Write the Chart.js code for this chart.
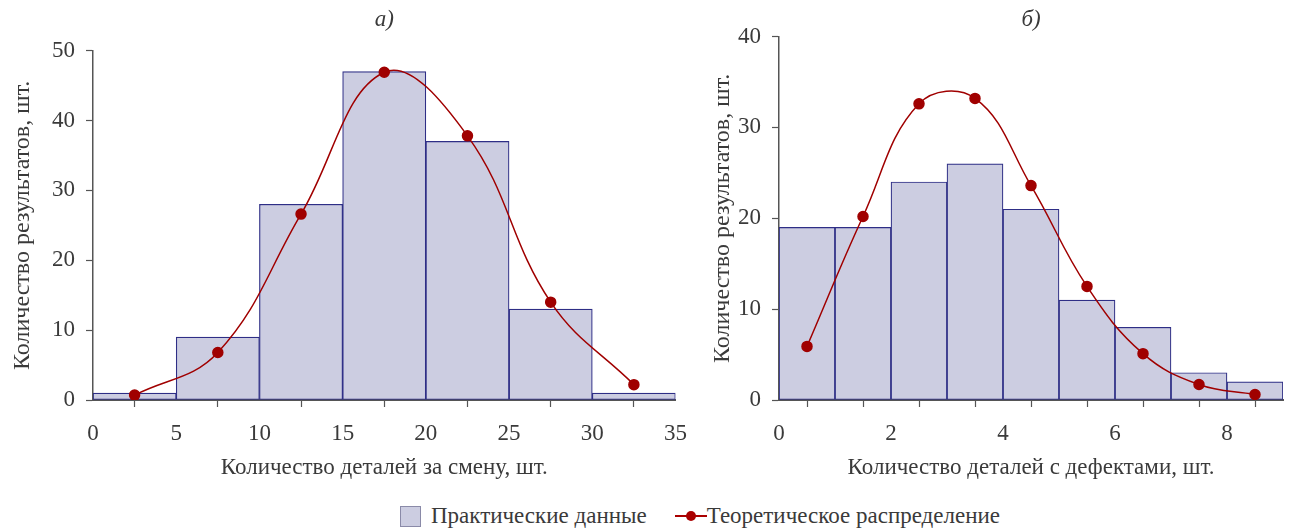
<!DOCTYPE html>
<html lang="ru">
<head>
    <meta charset="utf-8">
    <title>Гистограммы</title>
    <script src="https://cdn.jsdelivr.net/npm/chart.js"></script>
    <style>
        body { margin: 0; background: #fff; width: 1291px; height: 531px; position: relative; overflow: hidden; }
        .box { position: absolute; top: 0; height: 490px; }
        #legend { position: absolute; left: 0; width: 1400px; top: 502px; height: 28px;
                  display: flex; justify-content: center; align-items: center;
                  font-family: 'Liberation Serif', serif; font-size: 23px; color: #3a3a3a; }
        .item { display: flex; align-items: center; margin: 0 14px; white-space: nowrap; }
        .swatch { width: 19px; height: 19px; background: #cccde1; border: 1px solid #8a8aa8; margin-right: 10px; }
        .mark { position: relative; width: 32px; height: 2px; background: #a00; }
        .mark::after { content: ''; position: absolute; left: 11px; top: -4px; width: 10px; height: 10px;
                       border-radius: 50%; background: #a00; }
    </style>
</head>
<body>
    <div class="box" style="left:0;width:700px"><canvas id="chartA"></canvas></div>
    <div class="box" style="left:700px;width:596px"><canvas id="chartB"></canvas></div>
    <div id="legend"></div>
    <script>
        // а) детали за смену: интервалы по 5 шт.
        const centersA = [2.5, 7.5, 12.5, 17.5, 22.5, 27.5, 32.5];
        const practicalA = [1, 9, 28, 47, 37, 13, 1];
        const theoryA = [0.7, 6.8, 26.6, 46.9, 37.8, 14.0, 2.2];

        // б) детали с дефектами: интервалы по 1 шт.
        const centersB = [0.5, 1.5, 2.5, 3.5, 4.5, 5.5, 6.5, 7.5, 8.5];
        const practicalB = [19, 19, 24, 26, 21, 11, 8, 3, 2];
        const theoryB = [5.9, 20.2, 32.6, 33.2, 23.6, 12.5, 5.1, 1.7, 0.6];

        const labelPractical = 'Практические данные';
        const labelTheory = 'Теоретическое распределение';
        const yTitle = 'Количество результатов, шт.';

        const FONT = 'Liberation Serif';
        const TEXT = '#3a3a3a';
        const AXIS = '#555';
        const BAR_FILL = '#cccde1';
        const BAR_EDGE = '#2e2e86';
        const RED = '#a00000';

        function pairs(xs, ys) {
            return xs.map((x, i) => ({ x: x, y: ys[i] }));
        }

        function makeChart(id, cfg) {
            const ctx = document.getElementById(id).getContext('2d');
            return new Chart(ctx, {
                type: 'bar',
                data: {
                    datasets: [{
                        type: 'line',
                        label: labelTheory,
                        data: pairs(cfg.centers, cfg.theory),
                        borderColor: RED,
                        backgroundColor: RED,
                        borderWidth: 1.5,
                        pointRadius: 5,
                        pointHoverRadius: 5,
                        tension: 0.4,
                        order: 0
                    }, {
                        label: labelPractical,
                        data: pairs(cfg.centers, cfg.practical),
                        backgroundColor: BAR_FILL,
                        borderColor: BAR_EDGE,
                        borderWidth: 1.2,
                        borderSkipped: false,
                        barPercentage: 1,
                        categoryPercentage: 1,
                        order: 1
                    }]
                },
                options: {
                    responsive: true,
                    maintainAspectRatio: false,
                    animation: false,
                    layout: { padding: { left: 0, right: 0, top: 0, bottom: 0 } },
                    plugins: {
                        legend: { display: false },
                        tooltip: { enabled: false },
                        title: {
                            display: true,
                            text: cfg.title,
                            fullSize: false,
                            color: TEXT,
                            font: { family: FONT, size: 23, style: 'italic', weight: 'normal', lineHeight: 1.2 },
                            padding: { top: 6, bottom: cfg.titleGap }
                        }
                    },
                    scales: {
                        x: {
                            type: 'linear',
                            min: 0,
                            max: cfg.xMax,
                            offset: false,
                            afterFit: (s) => { s.height = 90; },
                            grid: { display: true, drawOnChartArea: false, drawTicks: true, tickLength: 7, tickColor: AXIS, tickWidth: 1.2 },
                            border: { display: true, color: AXIS, width: 2 },
                            ticks: {
                                stepSize: cfg.xStep,
                                autoSkip: false,
                                maxRotation: 0,
                                padding: 13,
                                color: TEXT,
                                font: { family: FONT, size: 23 },
                                callback: (v) => (v % cfg.xLabelEvery === 0 ? String(v) : '')
                            },
                            title: {
                                display: true,
                                text: cfg.xTitle,
                                color: TEXT,
                                font: { family: FONT, size: 23, lineHeight: 1.2 },
                                padding: { top: 0, bottom: 8 }
                            }
                        },
                        y: {
                            min: 0,
                            max: cfg.yMax,
                            afterFit: (s) => { s.width = cfg.yWidth; },
                            grid: { display: true, drawOnChartArea: false, drawTicks: true, tickLength: 7, tickColor: AXIS, tickWidth: 1.2 },
                            border: { display: true, color: AXIS, width: 1.5 },
                            ticks: {
                                stepSize: 10,
                                padding: 11,
                                color: TEXT,
                                font: { family: FONT, size: 23 }
                            },
                            title: {
                                display: true,
                                text: yTitle,
                                color: TEXT,
                                font: { family: FONT, size: 24, lineHeight: 1.2 },
                                padding: { top: 8, bottom: 0 }
                            }
                        }
                    }
                }
            });
        }

        makeChart('chartA', {
            title: 'а)',
            centers: centersA, practical: practicalA, theory: theoryA,
            xMax: 35, xStep: 5, xLabelEvery: 5, yMax: 50,
            xTitle: 'Количество деталей за смену, шт.',
            yWidth: 93, titleGap: 17
        });

        makeChart('chartB', {
            title: 'б)',
            centers: centersB, practical: practicalB, theory: theoryB,
            xMax: 9, xStep: 1, xLabelEvery: 2, yMax: 40,
            xTitle: 'Количество деталей с дефектами, шт.',
            yWidth: 79, titleGap: 3
        });

        // общая легенда под обоими графиками
        document.getElementById('legend').innerHTML =
            '<span class="item"><span class="swatch"></span>' + labelPractical + '</span>' +
            '<span class="item"><span class="mark"></span>' + labelTheory + '</span>';
    </script>
</body>
</html>
